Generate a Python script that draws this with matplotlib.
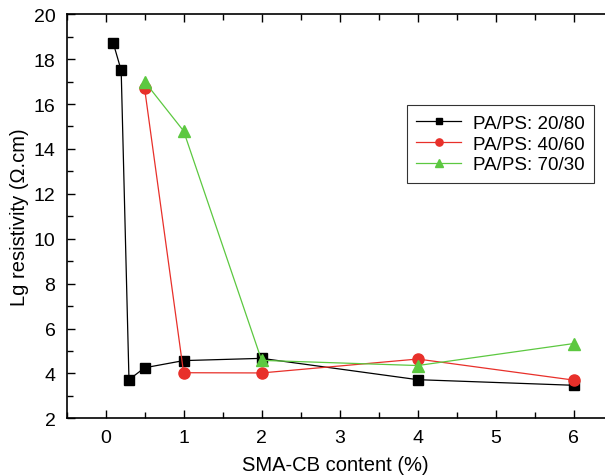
import numpy as np
import matplotlib.pyplot as plt
from matplotlib.ticker import MultipleLocator

plt.rcParams['font.family'] = ['Liberation Sans', 'DejaVu Sans']

# SMA-CB content (%) and Lg resistivity for each blend
x_2080 = [0.1, 0.2, 0.3, 0.5, 1, 2, 4, 6]
y_2080 = [18.7, 17.5, 3.72, 4.25, 4.57, 4.67, 3.72, 3.47]

x_4060 = [0.5, 1, 2, 4, 6]
y_4060 = [16.7, 4.03, 4.02, 4.64, 3.7]

x_7030 = [0.5, 1, 2, 4, 6]
y_7030 = [17.0, 14.8, 4.58, 4.35, 5.33]

labels = ['PA/PS: 20/80', 'PA/PS: 40/60', 'PA/PS: 70/30']

fig = plt.figure(figsize=(6.05, 4.77), dpi=100)
ax = fig.add_axes([0.110, 0.121, 0.89, 0.847])

ax.plot(x_2080, y_2080, color='black', lw=0.9, marker='s', ms=7, label=labels[0])
ax.plot(x_4060, y_4060, color='#e8302a', lw=0.9, marker='o', ms=8, label=labels[1])
ax.plot(x_7030, y_7030, color='#5cc840', lw=0.9, marker='^', ms=8, label=labels[2])

ax.set_xlim(-0.5, 6.4)
ax.set_ylim(2, 20)
ax.xaxis.set_major_locator(MultipleLocator(1))
ax.xaxis.set_minor_locator(MultipleLocator(0.5))
ax.yaxis.set_major_locator(MultipleLocator(2))
ax.yaxis.set_minor_locator(MultipleLocator(1))
ax.tick_params(which='both', direction='in', top=True, right=False, labelsize=14)
ax.tick_params(which='major', length=6, width=1, pad=8)
ax.tick_params(which='minor', length=4, width=1)
ax.spines['right'].set_visible(False)
for s in ax.spines.values():
    s.set_linewidth(1.2)

ax.set_xlabel('SMA-CB content (%)', fontsize=14.5, labelpad=6)
ax.set_ylabel('Lg resistivity (\u03a9.cm)', fontsize=14.5, labelpad=3)

leg = ax.legend(loc='upper right', bbox_to_anchor=(0.979, 0.775), borderaxespad=0,
                fontsize=13.5, frameon=True, fancybox=False, edgecolor='black',
                markerscale=0.65, handlelength=2.4, borderpad=0.5, labelspacing=0.2,
                handletextpad=0.6)
leg.get_frame().set_linewidth(0.8)

fig.savefig('out.png', dpi=100)
